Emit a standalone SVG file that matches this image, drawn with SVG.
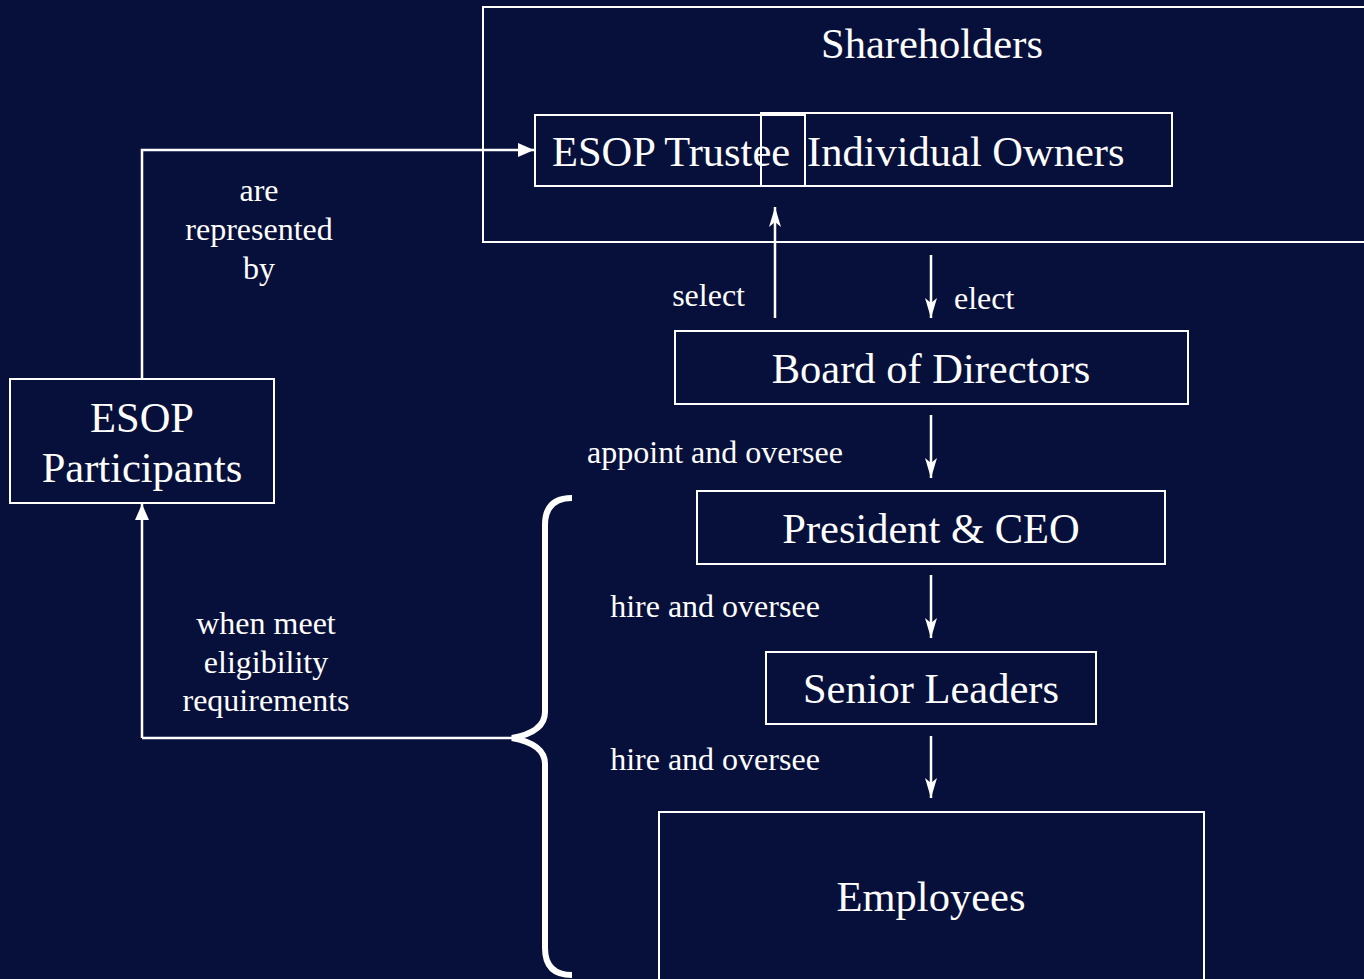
<svg xmlns="http://www.w3.org/2000/svg" width="1364" height="979" viewBox="0 0 1364 979">
<defs>
<style>
.box{fill:none;stroke:#ffffff;stroke-width:2}
.ln{fill:none;stroke:#ffffff;stroke-width:2.5}
.big{font-family:"Liberation Serif","Times New Roman",serif;font-size:42.5px;fill:#ffffff}
.lbl{font-family:"Liberation Serif","Times New Roman",serif;font-size:32px;fill:#ffffff}
</style>
<marker id="barb" viewBox="0 0 20 12" refX="20" refY="6" markerWidth="20" markerHeight="12" markerUnits="userSpaceOnUse" orient="auto">
<path d="M0,0 L20,6 L0,12 L5,6 z" fill="#ffffff"/>
</marker>
<marker id="tri2" viewBox="0 0 16 14" refX="16" refY="7" markerWidth="16" markerHeight="14" markerUnits="userSpaceOnUse" orient="auto">
<path d="M0,0 L16,7 L0,14 z" fill="#ffffff"/>
</marker>
</defs>
<rect x="0" y="0" width="1364" height="979" fill="#07103b"/>

<g id="connectors">
<path class="ln" d="M142,379 V150 H534" marker-end="url(#tri2)"/>
<path class="ln" d="M142,738 H512"/>
<path class="ln" d="M142,738 V504" marker-end="url(#tri2)"/>
<path class="ln" d="M775,318 V207" marker-end="url(#barb)"/>
<path class="ln" d="M931,255 V318" marker-end="url(#barb)"/>
<path class="ln" d="M931,415 V478" marker-end="url(#barb)"/>
<path class="ln" d="M931,575 V638" marker-end="url(#barb)"/>
<path class="ln" d="M931,736 V798" marker-end="url(#barb)"/>
<path d="M572,498 Q545,498 545,525 V712 Q545,732 512,738 Q545,744 545,764 V948 Q545,975 572,975" fill="none" stroke="#ffffff" stroke-width="6"/>
<text class="lbl" x="259" y="201" text-anchor="middle">are</text>
<text class="lbl" x="259" y="240" text-anchor="middle">represented</text>
<text class="lbl" x="259" y="279" text-anchor="middle">by</text>
<text class="lbl" x="266" y="634" text-anchor="middle">when meet</text>
<text class="lbl" x="266" y="673" text-anchor="middle">eligibility</text>
<text class="lbl" x="266" y="711" text-anchor="middle">requirements</text>
<text class="lbl" x="745" y="306" text-anchor="end">select</text>
<text class="lbl" x="954" y="309">elect</text>
<text class="lbl" x="715" y="463" text-anchor="middle">appoint and oversee</text>
<text class="lbl" x="715" y="617" text-anchor="middle">hire and oversee</text>
<text class="lbl" x="715" y="770" text-anchor="middle">hire and oversee</text>
</g>

<g id="shareholders">
<rect class="box" x="483" y="7" width="900" height="235"/>
<text class="big" x="932" y="58" text-anchor="middle">Shareholders</text>
</g>
<g id="esop-trustee">
<rect class="box" x="535" y="115" width="270" height="71"/>
<text class="big" x="552" y="166">ESOP Trustee</text>
</g>
<g id="individual-owners">
<rect class="box" x="761" y="113" width="411" height="73"/>
<text class="big" x="807" y="166">Individual Owners</text>
</g>
<g id="esop-participants">
<rect class="box" x="10" y="379" width="264" height="124"/>
<text class="big" x="142" y="432" text-anchor="middle">ESOP</text>
<text class="big" x="142" y="482" text-anchor="middle">Participants</text>
</g>
<g id="board">
<rect class="box" x="675" y="331" width="513" height="73"/>
<text class="big" x="931" y="383" text-anchor="middle">Board of Directors</text>
</g>
<g id="ceo">
<rect class="box" x="697" y="491" width="468" height="73"/>
<text class="big" x="931" y="543" text-anchor="middle">President &amp; CEO</text>
</g>
<g id="senior-leaders">
<rect class="box" x="766" y="652" width="330" height="72"/>
<text class="big" x="931" y="703" text-anchor="middle">Senior Leaders</text>
</g>
<g id="employees">
<rect class="box" x="659" y="812" width="545" height="200"/>
<text class="big" x="931" y="911" text-anchor="middle">Employees</text>
</g>
</svg>
